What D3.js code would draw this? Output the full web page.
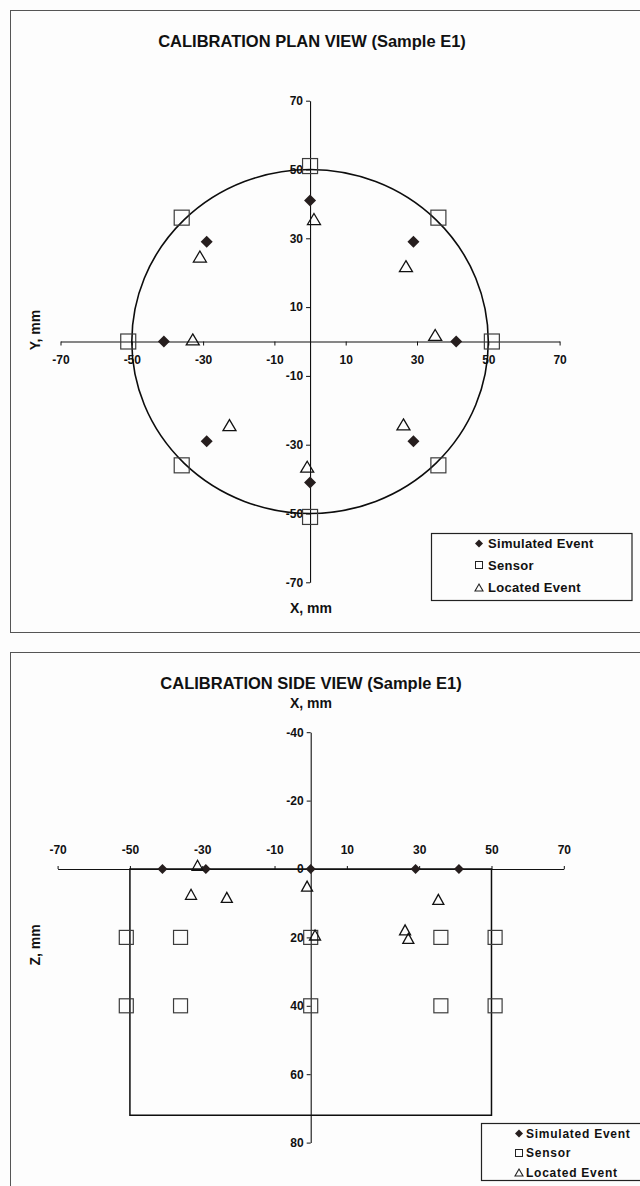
<!DOCTYPE html>
<html>
<head>
<meta charset="utf-8">
<script src="https://cdn.jsdelivr.net/npm/d3@7"></script>
<style>
  html, body { margin: 0; padding: 0; background: #fdfdfd; }
  svg { display: block; }
  text { font-family: "Liberation Sans", Arial, sans-serif; font-weight: bold; fill: #111; }
</style>
</head>
<body>
<svg id="chart" width="640" height="1186"></svg>
<script>
// ---- Plan view (X, Y in mm) ----
const planTicks = [-70, -50, -30, -10, 10, 30, 50, 70];
const simulatedPlan = [[0, 41], [29, 29], [41, 0], [29, -29], [0, -41], [-29, -29], [-41, 0], [-29, 29]];
const sensorPlan = [[0, 51], [36, 36], [51, 0], [36, -36], [0, -51], [-36, -36], [-51, 0], [-36, 36]];
const locatedPlan = [[1.1, 35.6], [-30.9, 24.7], [-32.9, 0.6], [26.9, 21.9], [35.1, 1.9], [-22.6, -24.3], [-0.8, -36.4], [26.2, -24.1]];
const sampleRadius = 50;

// ---- Side view (X, Z in mm) ----
const sideXTicks = [-70, -50, -30, -10, 10, 30, 50, 70];
const sideZTicks = [-40, -20, 0, 20, 40, 60, 80];
const simulatedSide = [[-41, 0], [-29, 0], [0, 0], [29, 0], [41, 0]];
const sensorSide = [[-51, 20], [-36, 20], [0, 20], [36, 20], [51, 20], [-51, 40], [-36, 40], [0, 40], [36, 40], [51, 40]];
const locatedSide = [[-31.3, -1.1], [-33.1, 7.4], [-23.2, 8.3], [-1.0, 5.0], [1.2, 19.3], [26.1, 17.8], [27.0, 20.3], [35.3, 8.9]];
const sampleBoxX = [-50, 50];
const sampleBoxZ = [0, 72];

const legendItems = ["Simulated Event", "Sensor", "Located Event"];

const svg = d3.select("#chart");
const plainNumber = d => String(d);   // hyphen-minus, as printed on the axes

// marker path helpers
const diamondPath = (cx, cy, r) => `M${cx},${cy - r}L${cx + r},${cy}L${cx},${cy + r}L${cx - r},${cy}Z`;
const trianglePath = (cx, cy, w, h) => `M${cx},${cy - h / 2}L${cx + w / 2},${cy + h / 2}L${cx - w / 2},${cy + h / 2}Z`;

function styleAxis(g, size) {
  g.attr("font-family", null).attr("font-size", null);
  g.selectAll("path.domain").attr("stroke", "#111").attr("stroke-width", 1.1);
  g.selectAll(".tick line").attr("stroke", "#111").attr("stroke-width", 1);
  g.selectAll(".tick text").style("font-size", size + "px").attr("fill", "#111");
}

function drawMarkers(g, x, y, sim, sens, loc, o) {
  g.append("g").selectAll("path").data(sim).join("path")
    .attr("d", d => diamondPath(x(d[0]), y(d[1]), o.dr))
    .attr("fill", "#261e1e");
  g.append("g").selectAll("rect").data(sens).join("rect")
    .attr("x", d => x(d[0]) - o.sq / 2).attr("y", d => y(d[1]) - o.sq / 2)
    .attr("width", o.sq).attr("height", o.sq)
    .attr("fill", "none").attr("stroke", "#3c3c3c").attr("stroke-width", 1.2);
  g.append("g").selectAll("path").data(loc).join("path")
    .attr("d", d => trianglePath(x(d[0]), y(d[1]), o.tw, o.th))
    .attr("fill", "none").attr("stroke", "#111").attr("stroke-width", 1.3);
}

function drawLegend(g, x0, y0, w, h, sx, tx, rows, fs, ls) {
  g.append("rect").attr("x", x0).attr("y", y0).attr("width", w).attr("height", h)
    .attr("fill", "#fdfdfd").attr("stroke", "#222").attr("stroke-width", 1.2);
  g.append("path").attr("d", diamondPath(sx, rows[0], 4)).attr("fill", "#261e1e");
  g.append("rect").attr("x", sx - 3.5).attr("y", rows[1] - 3.5).attr("width", 7).attr("height", 7)
    .attr("fill", "none").attr("stroke", "#222").attr("stroke-width", 1);
  g.append("path").attr("d", trianglePath(sx, rows[2], 8, 7)).attr("fill", "none").attr("stroke", "#222").attr("stroke-width", 1.1);
  legendItems.forEach((t, i) => {
    g.append("text").attr("x", tx).attr("y", rows[i]).attr("dy", "0.36em")
      .style("font-size", fs + "px").style("letter-spacing", ls + "px").text(t);
  });
}

// ===== Plan view =====
const plan = svg.append("g");
plan.append("rect").attr("x", 10.5).attr("y", 10.5).attr("width", 660).attr("height", 622)
  .attr("fill", "none").attr("stroke", "#555").attr("stroke-width", 1);

const xP = d3.scaleLinear().domain([-70, 70]).range([60.5, 559.6]);
const yP = d3.scaleLinear().domain([-70, 70]).range([582.3, 100.7]);

plan.append("text").attr("x", 312).attr("y", 47).attr("text-anchor", "middle")
  .style("font-size", "16.5px").text("CALIBRATION PLAN VIEW (Sample E1)");

plan.append("g").attr("transform", `translate(0,${yP(0)})`)
  .call(d3.axisBottom(xP).tickValues(planTicks).tickSize(4).tickSizeOuter(0).tickPadding(10).tickFormat(plainNumber))
  .call(g => styleAxis(g, 12));
plan.append("g").attr("transform", `translate(${xP(0)},0)`)
  .call(d3.axisLeft(yP).tickValues(planTicks).tickSize(4).tickSizeOuter(0).tickPadding(3).tickFormat(plainNumber))
  .call(g => styleAxis(g, 12));

plan.append("ellipse")
  .attr("cx", xP(0)).attr("cy", yP(0))
  .attr("rx", xP(sampleRadius) - xP(0)).attr("ry", yP(0) - yP(sampleRadius))
  .attr("fill", "none").attr("stroke", "#0d0d0d").attr("stroke-width", 1.6);

drawMarkers(plan, xP, yP, simulatedPlan, sensorPlan, locatedPlan, { dr: 6, sq: 15, tw: 13, th: 11 });

plan.append("text").attr("x", 311).attr("y", 608).attr("dy", "0.36em").attr("text-anchor", "middle")
  .style("font-size", "14px").text("X, mm");
plan.append("text").attr("transform", "translate(35,330) rotate(-90)").attr("dy", "0.36em")
  .attr("text-anchor", "middle").style("font-size", "14px").text("Y, mm");

drawLegend(plan, 431.5, 533.5, 200.5, 67, 479, 488, [543.5, 565, 587.5], 13, 0.3);

// ===== Side view =====
const side = svg.append("g");
side.append("rect").attr("x", 10.5).attr("y", 652.5).attr("width", 660).attr("height", 600)
  .attr("fill", "none").attr("stroke", "#555").attr("stroke-width", 1);

const xS = d3.scaleLinear().domain([-70, 70]).range([57.6, 563.8]);
const zS = d3.scaleLinear().domain([-40, 80]).range([732.2, 1142.6]);

side.append("text").attr("x", 311).attr("y", 689).attr("text-anchor", "middle")
  .style("font-size", "16.5px").text("CALIBRATION SIDE VIEW (Sample E1)");
side.append("text").attr("x", 311).attr("y", 703).attr("dy", "0.36em").attr("text-anchor", "middle")
  .style("font-size", "14px").text("X, mm");
side.append("text").attr("transform", "translate(35,945) rotate(-90)").attr("dy", "0.36em")
  .attr("text-anchor", "middle").style("font-size", "14px").text("Z, mm");

side.append("rect")
  .attr("x", xS(sampleBoxX[0])).attr("y", zS(sampleBoxZ[0]))
  .attr("width", xS(sampleBoxX[1]) - xS(sampleBoxX[0])).attr("height", zS(sampleBoxZ[1]) - zS(sampleBoxZ[0]))
  .attr("fill", "none").attr("stroke", "#0d0d0d").attr("stroke-width", 1.5);

side.append("g").attr("transform", `translate(0,${zS(0)})`)
  .call(d3.axisTop(xS).tickValues(sideXTicks).tickSize(3).tickSizeOuter(0).tickPadding(12).tickFormat(plainNumber))
  .call(g => styleAxis(g, 12));
side.append("g").attr("transform", `translate(${xS(0)},0)`)
  .call(d3.axisLeft(zS).tickValues(sideZTicks).tickSize(4).tickSizeOuter(0).tickPadding(3).tickFormat(plainNumber))
  .call(g => styleAxis(g, 12));

drawMarkers(side, xS, zS, simulatedSide, sensorSide, locatedSide, { dr: 5, sq: 14, tw: 11, th: 10 });

drawLegend(side, 481.5, 1123.5, 170, 57, 519, 526, [1133.5, 1153, 1172.5], 12, 0.75);
</script>
</body>
</html>
